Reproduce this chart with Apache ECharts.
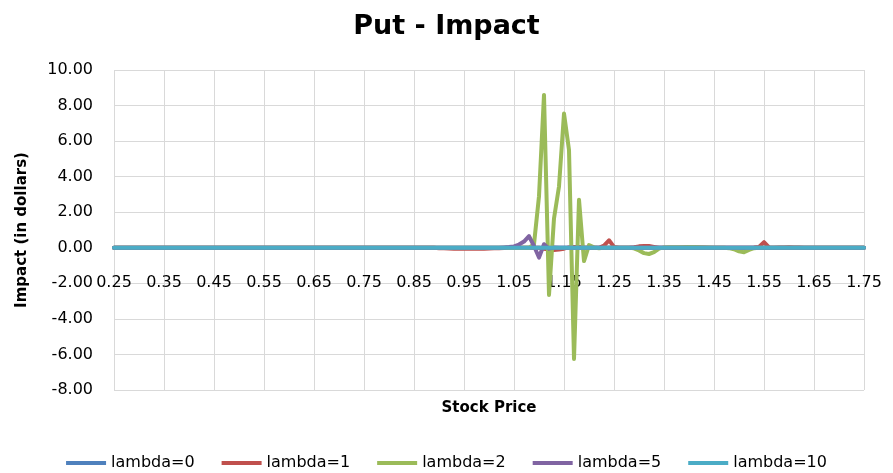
<!DOCTYPE html>
<html>
<head>
<meta charset="utf-8">
<script src="https://cdn.jsdelivr.net/npm/echarts@6/dist/echarts.min.js"></script>
<style>
html,body{margin:0;padding:0;background:#fff;}
#chart{width:893px;height:473px;}
</style>
</head>
<body>
<div id="chart"></div>
<script>
var categories = [
"0.25","0.26","0.27","0.28","0.29","0.30","0.31","0.32","0.33","0.34",
"0.35","0.36","0.37","0.38","0.39","0.40","0.41","0.42","0.43","0.44",
"0.45","0.46","0.47","0.48","0.49","0.50","0.51","0.52","0.53","0.54",
"0.55","0.56","0.57","0.58","0.59","0.60","0.61","0.62","0.63","0.64",
"0.65","0.66","0.67","0.68","0.69","0.70","0.71","0.72","0.73","0.74",
"0.75","0.76","0.77","0.78","0.79","0.80","0.81","0.82","0.83","0.84",
"0.85","0.86","0.87","0.88","0.89","0.90","0.91","0.92","0.93","0.94",
"0.95","0.96","0.97","0.98","0.99","1.00","1.01","1.02","1.03","1.04",
"1.05","1.06","1.07","1.08","1.09","1.10","1.11","1.12","1.13","1.14",
"1.15","1.16","1.17","1.18","1.19","1.20","1.21","1.22","1.23","1.24",
"1.25","1.26","1.27","1.28","1.29","1.30","1.31","1.32","1.33","1.34",
"1.35","1.36","1.37","1.38","1.39","1.40","1.41","1.42","1.43","1.44",
"1.45","1.46","1.47","1.48","1.49","1.50","1.51","1.52","1.53","1.54",
"1.55","1.56","1.57","1.58","1.59","1.60","1.61","1.62","1.63","1.64",
"1.65","1.66","1.67","1.68","1.69","1.70","1.71","1.72","1.73","1.74",
"1.75"
];

var lambda0 = [
0,0,0,0,0,0,0,0,0,0,
0,0,0,0,0,0,0,0,0,0,
0,0,0,0,0,0,0,0,0,0,
0,0,0,0,0,0,0,0,0,0,
0,0,0,0,0,0,0,0,0,0,
0,0,0,0,0,0,0,0,0,0,
0,0,0,0,0,0,0,0,0,0,
0,0,0,0,0,0,0,0,0,0,
0,0,0,0,0,0,0,0,0,0,
0,0,0,0,0,0,0,0,0,0,
0,0,0,0,0,0,0,0,0,0,
0,0,0,0,0,0,0,0,0,0,
0,0,0,0,0,0,0,0,0,0,
0,0,0,0,0,0,0,0,0,0,
0,0,0,0,0,0,0,0,0,0,
0
];

var lambda1 = [
0,0,0,0,0,0,0,0,0,0,
0,0,0,0,0,0,0,0,0,0,
0,0,0,0,0,0,0,0,0,0,
0,0,0,0,0,0,0,0,0,0,
0,0,0,0,0,0,0,0,0,0,
0,0,0,0,0,0,0,0,0,0,
0,0,0,0,0,-0.02,-0.03,-0.04,-0.05,-0.05,
-0.05,-0.05,-0.05,-0.05,-0.05,-0.04,-0.03,-0.02,-0.01,0,
0,0,0,0,0,0,-0.05,-0.1,-0.12,-0.1,
-0.05,0.02,0.05,0.04,0.01,0,0,0,0.12,0.42,
0.05,0,0,0,0.03,0.08,0.1,0.1,0.05,0,
0,0,0,0,0.02,0.03,0.03,0.02,0.01,0,
0,0,0,0,0,0,0,0,0.01,0.05,
0.32,0.02,0,0.01,0.02,0.03,0.02,0.01,0,0,
0,0,0,0,0,0,0,0,0,0,
0
];

var lambda2 = [
0,0,0,0,0,0,0,0,0,0,
0,0,0,0,0,0,0,0,0,0,
0,0,0,0,0,0,0,0,0,0,
0,0,0,0,0,0,0,0,0,0,
0,0,0,0,0,0,0,0,0,0,
0,0,0,0,0,0,0,0,0,0,
0,0,0,0,0,0,0,0,0,0,
0,0,0,0,0,0,0,0,0,0,
0,0,0,0,0.2,2.9,8.6,-2.65,1.65,3.45,
7.55,5.5,-6.25,2.7,-0.75,0.15,0.02,-0.03,0,0,
0,0,0,0,-0.03,-0.15,-0.3,-0.35,-0.25,-0.05,
0.02,0.03,0.03,0.03,0.03,0.04,0.04,0.03,0.02,0.01,
0,0,0,-0.02,-0.08,-0.2,-0.25,-0.12,-0.02,0,
0,0,0,0,0,0,0,0,0,0,
0,0,0,0,0,0,0,0,0,0,
0
];

var lambda5 = [
0,0,0,0,0,0,0,0,0,0,
0,0,0,0,0,0,0,0,0,0,
0,0,0,0,0,0,0,0,0,0,
0,0,0,0,0,0,0,0,0,0,
0,0,0,0,0,0,0,0,0,0,
0,0,0,0,0,0,0,0,0,0,
0,0,0,0,0,0,0,0,0,0,
0,0,0,0,0,0,0,0,0.02,0.04,
0.08,0.18,0.35,0.66,0.1,-0.55,0.2,-0.05,0.01,0,
0,0,0,0,0,0,0,0,0,0,
0,0,0,0,0,0,0,0,0,0,
0,0,0,0,0,0,0,0,0,0,
0,0,0,0,0,0,0,0,0,0,
0,0,0,0,0,0,0,0,0,0,
0,0,0,0,0,0,0,0,0,0,
0
];

var lambda10 = [
0,0,0,0,0,0,0,0,0,0,
0,0,0,0,0,0,0,0,0,0,
0,0,0,0,0,0,0,0,0,0,
0,0,0,0,0,0,0,0,0,0,
0,0,0,0,0,0,0,0,0,0,
0,0,0,0,0,0,0,0,0,0,
0,0,0,0,0,0,0,0,0,0,
0,0,0,0,0,0,0,0,0,0,
0,0,0,0,0,0,0,0,0,0,
0,0,0,0,0,0,0,0,0,0,
0,0,0,0,0,0,0,0,0,0,
0,0,0,0,0,0,0,0,0,0,
0,0,0,0,0,0,0,0,0,0,
0,0,0,0,0,0,0,0,0,0,
0,0,0,0,0,0,0,0,0,0,
0
];

var seriesNames = ["lambda=0","lambda=1","lambda=2","lambda=5","lambda=10"];
var seriesData = [lambda0, lambda1, lambda2, lambda5, lambda10];
var colors = ["#4F81BD","#C0504D","#9BBB59","#8064A2","#4BACC6"];

var FONT = "DejaVu Sans";
var GRID_TOP = 70, GRID_BOTTOM = 83, H = 473;
var Y_MIN = -8, Y_MAX = 10;
var plotH = H - GRID_TOP - GRID_BOTTOM;
// distance from the bottom of the plot to the zero line
var zeroOffset = plotH * (0 - Y_MIN) / (Y_MAX - Y_MIN);

var chart = echarts.init(document.getElementById('chart'), null, {renderer:'canvas'});
var option = {
  animation: false,
  backgroundColor: '#ffffff',
  color: colors,
  title: {
    text: 'Put - Impact',
    left: 'center',
    top: 8,
    textStyle: {fontFamily: FONT, fontSize: 27, fontWeight: 'bold', color: '#000'}
  },
  legend: {
    data: seriesNames,
    bottom: -3,
    left: 'center',
    icon: 'rect',
    itemWidth: 40,
    itemHeight: 4,
    itemGap: 27,
    textStyle: {fontFamily: FONT, fontSize: 16, color: '#000'}
  },
  grid: {left: 114, right: 29, top: GRID_TOP, bottom: GRID_BOTTOM, containLabel: false, outerBoundsMode: 'none'},
  xAxis: {
    type: 'category',
    data: categories,
    boundaryGap: false,
    position: 'bottom',
    offset: -zeroOffset,
    name: 'Stock Price',
    nameLocation: 'middle',
    nameGap: 153,
    nameTextStyle: {fontFamily: FONT, fontSize: 15, fontWeight: 'bold', color: '#000'},
    axisLine: {onZero: false, lineStyle: {color: '#bfbfbf', width: 1}},
    axisTick: {show: false},
    axisLabel: {interval: 9, margin: 27, fontFamily: FONT, fontSize: 16, color: '#000', showMaxLabel: true},
    splitLine: {show: true, interval: 9, lineStyle: {color: '#d9d9d9', width: 1}}
  },
  yAxis: {
    type: 'value',
    min: Y_MIN,
    max: Y_MAX,
    interval: 2,
    name: 'Impact (in dollars)',
    nameLocation: 'middle',
    nameGap: 84,
    nameRotate: 90,
    nameTextStyle: {fontFamily: FONT, fontSize: 15, fontWeight: 'bold', color: '#000'},
    axisLine: {show: false},
    axisTick: {show: false},
    axisLabel: {margin: 21, fontFamily: FONT, fontSize: 16, color: '#000',
      formatter: function(v){ return v.toFixed(2); }},
    splitLine: {show: true, lineStyle: {color: '#d9d9d9', width: 1}}
  },
  series: seriesNames.map(function(n, i){
    return {
      name: n,
      type: 'line',
      data: seriesData[i],
      symbol: 'none',
      showSymbol: false,
      lineStyle: {width: 4, color: colors[i], join: 'round', cap: 'round'},
      itemStyle: {color: colors[i]},
      emphasis: {disabled: true}
    };
  })
};
chart.setOption(option);
</script>
</body>
</html>
